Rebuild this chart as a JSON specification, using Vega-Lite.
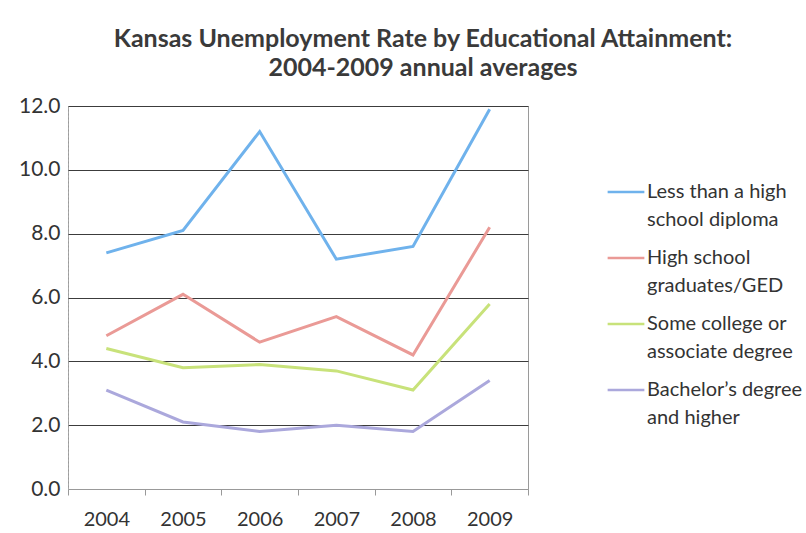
{
  "$schema": "https://vega.github.io/schema/vega-lite/v6.json",
  "autosize": {"type": "none"},
  "width": 460,
  "height": 383,
  "padding": {"left": 68, "top": 106, "right": 278, "bottom": 44},
  "background": "white",
  "config": {
    "font": "Lato",
    "view": {"stroke": "#9a9a9a", "strokeWidth": 1}
  },
  "title": {
    "text": ["Kansas Unemployment Rate by Educational Attainment:", "2004-2009 annual averages"],
    "anchor": "middle",
    "frame": "group",
    "dx": 125,
    "offset": 14,
    "fontSize": 25,
    "fontWeight": "bold",
    "color": "#3a3a3a",
    "lineHeight": 29,
    "font": "Lato"
  },
  "data": {
    "values": [
      {"year": "2004", "group": "Less than a high|school diploma", "rate": 7.4},
      {"year": "2005", "group": "Less than a high|school diploma", "rate": 8.1},
      {"year": "2006", "group": "Less than a high|school diploma", "rate": 11.2},
      {"year": "2007", "group": "Less than a high|school diploma", "rate": 7.2},
      {"year": "2008", "group": "Less than a high|school diploma", "rate": 7.6},
      {"year": "2009", "group": "Less than a high|school diploma", "rate": 11.9},
      {"year": "2004", "group": "High school|graduates/GED", "rate": 4.8},
      {"year": "2005", "group": "High school|graduates/GED", "rate": 6.1},
      {"year": "2006", "group": "High school|graduates/GED", "rate": 4.6},
      {"year": "2007", "group": "High school|graduates/GED", "rate": 5.4},
      {"year": "2008", "group": "High school|graduates/GED", "rate": 4.2},
      {"year": "2009", "group": "High school|graduates/GED", "rate": 8.2},
      {"year": "2004", "group": "Some college or|associate degree", "rate": 4.4},
      {"year": "2005", "group": "Some college or|associate degree", "rate": 3.8},
      {"year": "2006", "group": "Some college or|associate degree", "rate": 3.9},
      {"year": "2007", "group": "Some college or|associate degree", "rate": 3.7},
      {"year": "2008", "group": "Some college or|associate degree", "rate": 3.1},
      {"year": "2009", "group": "Some college or|associate degree", "rate": 5.8},
      {"year": "2004", "group": "Bachelor’s degree|and higher", "rate": 3.1},
      {"year": "2005", "group": "Bachelor’s degree|and higher", "rate": 2.1},
      {"year": "2006", "group": "Bachelor’s degree|and higher", "rate": 1.8},
      {"year": "2007", "group": "Bachelor’s degree|and higher", "rate": 2.0},
      {"year": "2008", "group": "Bachelor’s degree|and higher", "rate": 1.8},
      {"year": "2009", "group": "Bachelor’s degree|and higher", "rate": 3.4}
    ]
  },
  "mark": {"type": "line", "strokeWidth": 3},
  "encoding": {
    "x": {
      "field": "year",
      "type": "ordinal",
      "bandPosition": 0.5,
      "scale": {"type": "band", "paddingInner": 0, "paddingOuter": 0},
      "axis": {
        "title": null,
        "labelAngle": 0,
        "labelFontSize": 20,
        "labelColor": "#333",
        "labelPadding": 14,
        "tickBand": "extent",
        "tickSize": 6,
        "tickColor": "#999",
        "domainColor": "#999",
        "grid": false
      }
    },
    "y": {
      "field": "rate",
      "type": "quantitative",
      "scale": {"domain": [0, 12], "nice": false},
      "axis": {
        "title": null,
        "values": [0, 2, 4, 6, 8, 10, 12],
        "format": ".1f",
        "labelFontSize": 21,
        "labelColor": "#333",
        "labelPadding": 8,
        "ticks": false,
        "domainColor": "#aaa",
        "domainDash": [2, 2],
        "gridColor": {"condition": {"test": "datum.value === 0", "value": "#aaa"}, "value": "#3c3c3c"},
        "gridWidth": 1.2,
        "gridOpacity": 1
      }
    },
    "color": {
      "field": "group",
      "type": "nominal",
      "sort": null,
      "scale": {
        "domain": ["Less than a high|school diploma", "High school|graduates/GED", "Some college or|associate degree", "Bachelor’s degree|and higher"],
        "range": ["#6fb2ec", "#ea9a96", "#c8e27a", "#aba8dc"]
      },
      "legend": {
        "orient": "none",
        "legendX": 538,
        "legendY": 66,
        "title": null,
        "symbolType": "stroke",
        "symbolSize": 1350,
        "symbolStrokeWidth": 2.5,
        "labelExpr": "split(datum.label, '|')",
        "labelFontSize": 20,
        "labelColor": "#333",
        "labelLimit": 300,
        "labelOffset": 1,
        "labelBaseline": "middle",
        "rowPadding": 8,
        "encode": {
          "labels": {"update": {"lineHeight": {"value": 28}}}
        }
      }
    }
  }
}
